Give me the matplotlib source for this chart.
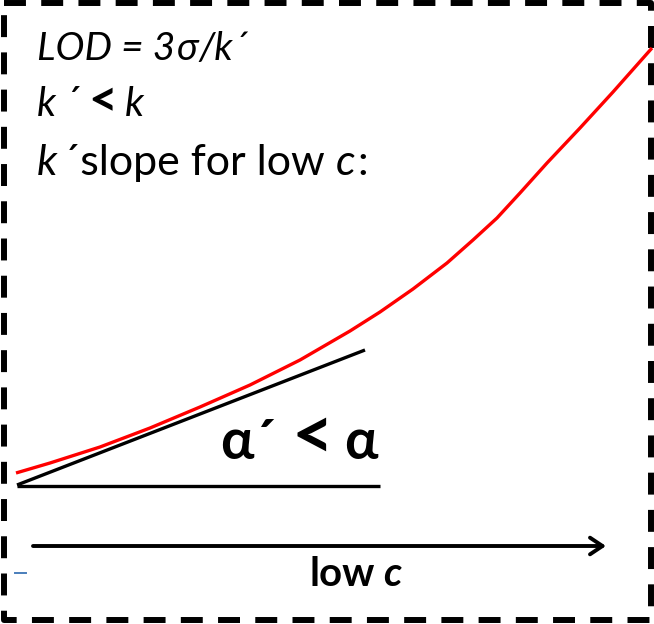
import matplotlib
matplotlib.use("Agg")
import matplotlib.pyplot as plt

plt.rcParams['lines.scale_dashes'] = False

FONT = ['Lato', 'DejaVu Sans']

# red calibration-type curve (picture coordinates, y grows downward)
curve_x = [16, 50, 100, 150, 200, 250, 300, 350, 380, 413, 447, 473, 497, 520, 547, 580, 613, 652]
curve_y = [473, 463, 447, 428, 407, 385, 360, 331, 312, 289, 263, 240, 218, 193, 163, 128, 92, 48]

# tangent at low c and horizontal reference
tangent_x = [17, 365]
tangent_y = [485, 350]
base_x = [17, 380]
base_y = [486, 486]

# axis arrow for c
arrow_x = [33, 606]
arrow_y = [546, 546]

# text lines: (text, style, weight, gap after, size)
lines_text = [
    [("LOD = 3", "italic", "normal", 2, 28), ("σ", "italic", "normal", 0, 28), ("/k´", "italic", "normal", 0, 28)],
    [("k", "italic", "normal", 9, 29), ("´", "normal", "normal", 7, 29), ("<", "normal", "bold", 8, 36), ("k", "italic", "normal", 0, 29)],
    [("k", "italic", "normal", 6, 31), ("´slope for low", "normal", "normal", 11, 31), ("c", "italic", "normal", 2, 31), (":", "normal", "normal", 0, 31)],
]
baselines = [60, 116, 175]

alpha_text = [("α´", "normal", "bold", 16, 40), ("<", "normal", "bold", 10, 52), ("α", "normal", "bold", 0, 40)]
c_label = [("low", "normal", "bold", 9, 29), ("c", "italic", "bold", 0, 29)]

fig = plt.figure(figsize=(6.54, 6.24), dpi=100)
ax = fig.add_axes([0, 0, 1, 1])
ax.set_xlim(0, 654)
ax.set_ylim(624, 0)
ax.axis('off')

# dashed frame
frame, = ax.plot([3.5, 650.5, 650.5, 3.5, 3.5], [3, 3, 620, 620, 3], color='black', lw=4.3,
                 solid_capstyle='butt', dash_capstyle='butt')
frame.set_dashes((15.8, 11.0))

ax.plot(curve_x, curve_y, color='#ff0000', lw=2.4, solid_capstyle='butt', solid_joinstyle='round')
ax.plot(tangent_x, tangent_y, color='black', lw=2.4, solid_capstyle='butt')
ax.plot(base_x, base_y, color='black', lw=2.4, solid_capstyle='butt')

ax.annotate('', xy=(arrow_x[1], arrow_y[1]), xytext=(arrow_x[0], arrow_y[0]),
            arrowprops=dict(arrowstyle='->,head_length=0.9,head_width=0.6', lw=2.8, color='black',
                            shrinkA=0, shrinkB=0))

# small blue tick
ax.plot([15, 26], [573, 573], color='#4a7ebb', lw=1.4)

renderer = fig.canvas.get_renderer()


def draw_runs(x, y, parts):
    for s, style, weight, gap, size in parts:
        t = ax.text(x, y, s, fontsize=size, style=style, weight=weight, family=FONT,
                    ha='left', va='baseline')
        bb = t.get_window_extent(renderer=renderer)
        x += bb.width + gap


for parts, yb in zip(lines_text, baselines):
    draw_runs(37, yb, parts)

draw_runs(220, 459, alpha_text)
draw_runs(309, 586, c_label)

fig.savefig("out.png", dpi=100)
